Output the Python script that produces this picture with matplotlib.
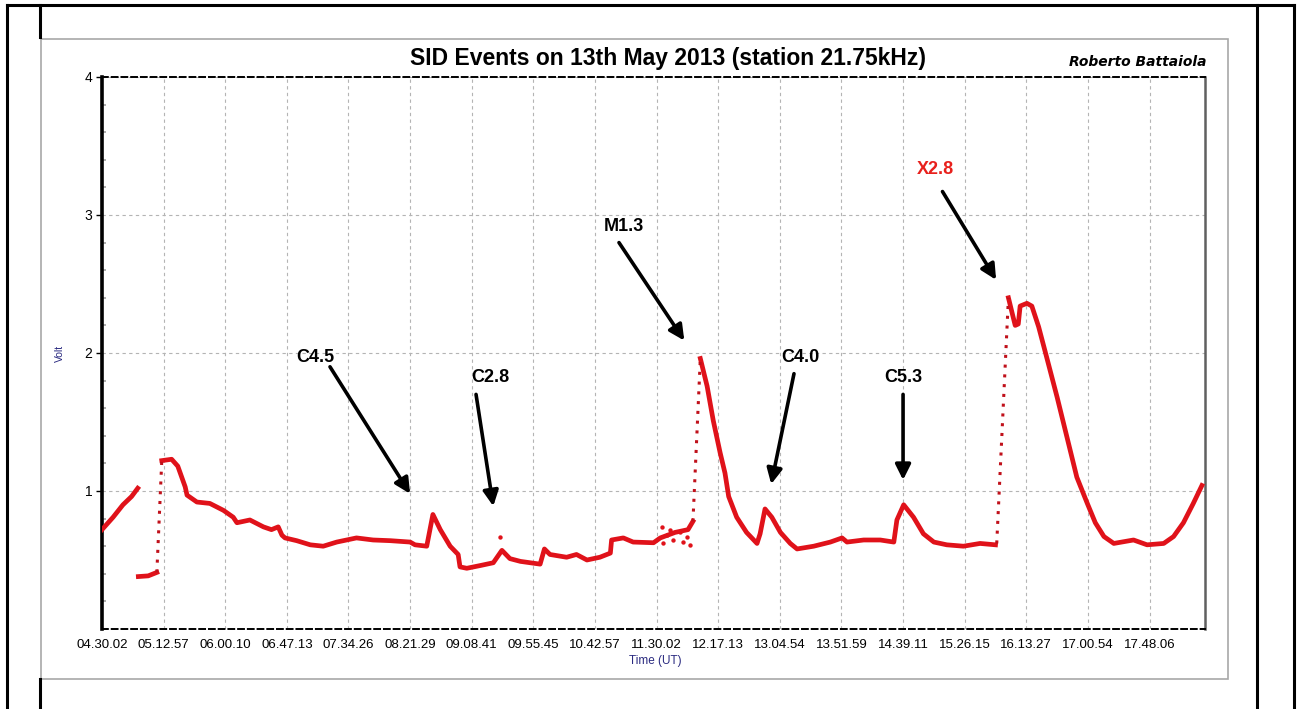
import numpy as np
import matplotlib.pyplot as plt
from matplotlib.lines import Line2D
from matplotlib.patches import Rectangle

W, H = 1297, 709

# x axis: tick index positions, labelled with the sample time
time_labels = ["04.30.02", "05.12.57", "06.00.10", "06.47.13", "07.34.26",
               "08.21.29", "09.08.41", "09.55.45", "10.42.57", "11.30.02",
               "12.17.13", "13.04.54", "13.51.59", "14.39.11", "15.26.15",
               "16.13.27", "17.00.54", "17.48.06"]
volt_ticks = [1, 2, 3, 4]

# recorded signal, split where the receiver trace jumps
seg_a_x = [0.00, 0.18, 0.34, 0.48, 0.58]
seg_a_v = [0.72, 0.81, 0.90, 0.96, 1.02]

seg_b_x = [0.59, 0.75, 0.89]
seg_b_v = [0.38, 0.385, 0.41]

seg_c_x = [0.97, 1.13, 1.23, 1.35, 1.38, 1.54, 1.75, 1.97, 2.13, 2.19, 2.40,
           2.62, 2.75, 2.86, 2.92, 2.97, 3.16, 3.38, 3.59, 3.81, 4.13, 4.40,
           4.68, 5.00, 5.08, 5.27, 5.37, 5.49, 5.65, 5.78, 5.81, 5.92, 6.14,
           6.35, 6.49, 6.62, 6.79, 7.11, 7.18, 7.27, 7.54, 7.70, 7.87, 8.08,
           8.25, 8.27, 8.46, 8.62, 8.95, 9.06, 9.30, 9.51, 9.59]
seg_c_v = [1.22, 1.23, 1.18, 1.03, 0.97, 0.92, 0.91, 0.86, 0.81, 0.77, 0.79,
           0.74, 0.72, 0.74, 0.68, 0.66, 0.64, 0.61, 0.60, 0.63, 0.66, 0.645,
           0.64, 0.63, 0.61, 0.60, 0.83, 0.72, 0.60, 0.54, 0.45, 0.44, 0.46,
           0.48, 0.57, 0.51, 0.49, 0.47, 0.58, 0.54, 0.52, 0.54, 0.50, 0.52,
           0.55, 0.645, 0.66, 0.63, 0.625, 0.66, 0.70, 0.72, 0.78]

seg_d_x = [9.71, 9.82, 9.92, 10.03, 10.11, 10.17, 10.30, 10.46, 10.63, 10.68,
           10.76, 10.87, 11.01, 11.17, 11.28, 11.55, 11.82, 12.01, 12.09,
           12.36, 12.63, 12.85, 12.90, 13.01, 13.17, 13.33, 13.50, 13.71,
           13.98, 14.25, 14.50]
seg_d_v = [1.96, 1.76, 1.51, 1.28, 1.13, 0.96, 0.81, 0.70, 0.62, 0.69,
           0.87, 0.81, 0.70, 0.62, 0.58, 0.60, 0.63, 0.66, 0.63,
           0.645, 0.645, 0.63, 0.79, 0.90, 0.81, 0.69, 0.63, 0.61,
           0.60, 0.62, 0.61]

seg_e_x = [14.71, 14.77, 14.82, 14.87, 14.90, 15.01, 15.09, 15.20, 15.33,
           15.50, 15.66, 15.82, 15.99, 16.12, 16.26, 16.42, 16.74, 16.96,
           17.23, 17.39, 17.55, 17.71, 17.85]
seg_e_v = [2.40, 2.29, 2.20, 2.21, 2.34, 2.36, 2.34, 2.19, 1.97,
           1.68, 1.39, 1.10, 0.91, 0.77, 0.67, 0.62, 0.645, 0.61,
           0.62, 0.67, 0.77, 0.91, 1.04]

# sparse samples on the fast rises
jump_x = [[0.89, 0.97], [9.59, 9.71], [14.52, 14.71]]
jump_v = [[0.41, 1.22], [0.78, 1.96], [0.62, 2.40]]

# scattered noisy samples before the M1.3 flare
noise_x = [9.09, 9.11, 9.17, 9.22, 9.27, 9.38, 9.43, 9.49, 9.55, 6.46]
noise_v = [0.74, 0.62, 0.68, 0.72, 0.645, 0.70, 0.63, 0.67, 0.61, 0.67]

# flare labels: text position, arrow tail, arrow tip
flares = ["C4.5", "C2.8", "M1.3", "C4.0", "C5.3", "X2.8"]
label_xy = [(3.46, 1.97), (6.30, 1.82), (8.47, 2.92), (11.33, 1.97), (13.00, 1.82), (13.52, 3.33)]
tail_xy = [(3.70, 1.90), (6.07, 1.70), (8.39, 2.80), (11.23, 1.85), (13.00, 1.70), (13.64, 3.17)]
tip_xy = [(5.00, 0.98), (6.35, 0.89), (9.45, 2.09), (10.86, 1.05), (13.00, 1.08), (14.51, 2.53)]
label_colors = ["black", "black", "black", "black", "black", "#e8201c"]

plt.rcParams['font.family'] = ['Liberation Sans', 'DejaVu Sans']

fig = plt.figure(figsize=(W / 100, H / 100), dpi=100)


def fx(px):
    return px / W


def fy(py):
    return 1 - py / H


# document table lines around the picture
for (x0, y0, x1, y1) in [(7, 5, 1294, 5), (7, 5, 7, 709), (1294, 5, 1294, 709),
                         (1257, 5, 1257, 709), (40, 5, 40, 37), (40, 679, 40, 709)]:
    fig.add_artist(Line2D([fx(x0), fx(x1)], [fy(y0), fy(y1)], color="black", lw=2.2))

# grey frame of the chart picture
fig.add_artist(Rectangle((fx(41), fy(679)), fx(1228) - fx(41), fy(39) - fy(679),
                         facecolor="white", edgecolor="#a8a8a8", lw=1.2, zorder=-1))

ax = fig.add_axes([fx(102), fy(629), fx(1205) - fx(102), fy(77) - fy(629)])
ax.set_zorder(2)
ax.patch.set_alpha(0)

red = "#e0121a"
for xs, vs in [(seg_a_x, seg_a_v), (seg_b_x, seg_b_v), (seg_c_x, seg_c_v),
               (seg_d_x, seg_d_v), (seg_e_x, seg_e_v)]:
    ax.plot(xs, vs, color=red, lw=3.4, solid_joinstyle="round", zorder=3)
for xs, vs in zip(jump_x, jump_v):
    ax.plot(xs, vs, color="#c0101a", lw=2.2, linestyle=(0, (1, 2.2)), zorder=3)
ax.scatter(noise_x, noise_v, s=10, color=red, zorder=3, linewidths=0)

for name, lxy, txy, pxy, c in zip(flares, label_xy, tail_xy, tip_xy, label_colors):
    ax.annotate("", xy=pxy, xytext=txy,
                arrowprops=dict(arrowstyle="-|>", color="black", lw=2.6,
                                mutation_scale=23, shrinkA=0, shrinkB=0))
    ax.text(lxy[0], lxy[1], name, ha="center", va="center", fontsize=13,
            fontweight="bold", color=c)

ax.set_xlim(0, 17.9)
ax.set_ylim(0, 4)
ax.set_xticks(range(len(time_labels)))
ax.set_xticklabels(time_labels, fontsize=9.5)
ax.set_yticks(volt_ticks)
ax.set_yticklabels([str(v) for v in volt_ticks], fontsize=10)
ax.set_yticks(np.arange(0.2, 4, 0.2), minor=True)
ax.tick_params(axis="x", length=0, pad=7)
ax.tick_params(axis="y", which="major", length=4, width=1, color="black", pad=3)
ax.tick_params(axis="y", which="minor", direction="in", length=3, width=1.2, color="#a0a0a0")
ax.grid(True, color="#b4b4b4", linestyle=(0, (3, 3)), lw=0.8)
ax.set_axisbelow(True)

ax.spines["left"].set_linewidth(2.6)
ax.spines["right"].set_linewidth(1.8)
ax.spines["right"].set_color("#606060")
for side in ["top", "bottom"]:
    ax.spines[side].set_linestyle((0, (3, 2)))
    ax.spines[side].set_linewidth(1.4)

fig.text(fx(668), fy(58), "SID Events on 13th May 2013 (station 21.75kHz)",
         ha="center", va="center", fontsize=16.5, fontweight="bold")
fig.text(fx(1138), fy(62), "Roberto Battaiola", ha="center", va="center",
         fontsize=10, fontstyle="italic", fontweight="bold", fontfamily="DejaVu Sans")
fig.text(fx(60), fy(353), "Volt", ha="center", va="center", rotation=90,
         fontsize=7.5, color="#2a2a80")
fig.text(fx(655), fy(661), "Time (UT)", ha="center", va="center",
         fontsize=8.5, color="#2a2a80")

fig.savefig("out.png", dpi=100)
